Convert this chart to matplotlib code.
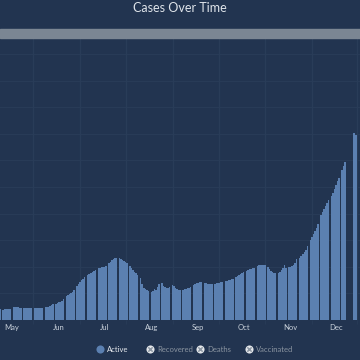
import numpy as np
import pandas as pd
import matplotlib
matplotlib.use('Agg')
import matplotlib.pyplot as plt
from matplotlib.patches import Rectangle

plt.rcParams['font.family'] = ['Lato', 'DejaVu Sans']

# daily active cases (chart units), one row per week; zero = day with no report
start_date = '2020-04-23'
active = [
    11, 0, 10, 11, 11, 11, 11,
    11, 0, 13, 13, 13, 13, 12,
    12, 0, 12, 12, 12, 12, 12,
    12, 0, 12, 12, 12, 12, 12,
    12, 0, 13, 13, 13, 14, 15,
    16, 0, 16, 17, 18, 18, 19,
    21, 0, 24, 25, 26, 27, 28,
    30, 0, 34, 36, 38, 40, 41,
    43, 0, 45, 46, 47, 48, 49,
    50, 0, 52, 52, 53, 53, 53,
    54, 0, 57, 58, 60, 61, 62,
    62, 0, 62, 61, 60, 59, 58,
    57, 0, 54, 52, 50, 48, 47,
    45, 0, 42, 36, 32, 31, 30,
    29, 0, 28, 29, 31, 30, 33,
    36, 0, 37, 34, 33, 32, 32,
    33, 0, 35, 34, 32, 31, 30,
    30, 0, 30, 31, 31, 32, 32,
    33, 0, 35, 36, 37, 37, 38,
    38, 0, 37, 37, 36, 36, 36,
    36, 0, 36, 37, 37, 37, 38,
    38, 0, 39, 39, 40, 40, 41,
    41, 0, 43, 44, 45, 46, 47,
    48, 0, 49, 50, 51, 51, 52,
    52, 0, 54, 55, 55, 55, 55,
    55, 0, 53, 51, 49, 48, 47,
    47, 0, 47, 48, 50, 52, 55,
    52, 0, 53, 53, 54, 55, 57,
    61, 0, 62, 64, 66, 68, 70,
    74, 0, 80, 83, 86, 89, 92,
    96, 0, 105, 108, 111, 114, 117,
    120, 0, 124, 127, 131, 135, 139,
    142, 0, 150, 154, 158, 0, 0,
    0, 0, 0, 187, 185,
]
month_labels = ['May', 'Jun', 'Jul', 'Aug', 'Sep', 'Oct', 'Nov', 'Dec']
legend_labels = ['Active', 'Recovered', 'Deaths', 'Vaccinated']

dates = pd.date_range(start_date, periods=len(active), freq='D')
month_starts = pd.date_range('2020-05-01', periods=len(month_labels), freq='MS')
mid_months = month_starts + pd.Timedelta(days=14)

bg = '#223450'
bar_color = '#5b80b1'
grid_color = '#293c58'
band_color = '#7b8693'

fig = plt.figure(figsize=(3.6, 3.6), dpi=100, facecolor=bg)
ax = fig.add_axes([0, 40 / 360, 1, 283 / 360])
ax.set_facecolor(bg)

ax.bar(dates, active, width=1.0, color=bar_color, linewidth=0, zorder=2)

ax.set_xlim(dates[0] + pd.Timedelta(days=0.07), dates[0] + pd.Timedelta(days=237.8))
ax.set_ylim(0, 283)
ax.set_yticks(np.arange(26.6, 283, 26.6))
ax.tick_params(axis='y', length=0, labelleft=False)

ax.set_xticks(month_starts)
ax.set_xticklabels(month_labels)
ax.set_xticks(mid_months, minor=True)
ax.tick_params(axis='x', which='major', length=0, labelsize=5.5,
               colors='#c9d1db', pad=3)
ax.tick_params(axis='x', which='minor', length=3, color=grid_color)
ax.grid(which='minor', axis='x', color=grid_color, linewidth=0.9, zorder=0)
ax.grid(which='major', axis='y', color=grid_color, linewidth=0.7, zorder=0)
for s in ax.spines.values():
    s.set_visible(False)

# overlay in pixel units for title, band and legend
ov = fig.add_axes([0, 0, 1, 1])
ov.set_xlim(0, 360)
ov.set_ylim(360, 0)
ov.axis('off')
ov.patch.set_alpha(0)

ov.add_patch(Rectangle((0, 29), 360, 8.5, color=band_color))
ov.text(180, 8, 'Cases Over Time', ha='center', va='center',
        fontsize=9, color='#dfe4ea')

legend_x = [100, 150, 200, 249]
for i, (lx, lab) in enumerate(zip(legend_x, legend_labels)):
    if i == 0:
        ov.scatter(lx, 349, s=34, color=bar_color, linewidths=0)
        tcol = '#e6e9ee'
    else:
        ov.scatter(lx, 349, s=34, color='#e4e7eb', linewidths=0)
        ov.scatter(lx, 349, s=10, marker='x', color='#8d97a3', linewidths=1.1)
        tcol = '#8a94a0'
    ov.text(lx + 7, 349, lab, va='center', ha='left', fontsize=5.5, color=tcol)

fig.savefig('out.png', dpi=100, facecolor=bg)
